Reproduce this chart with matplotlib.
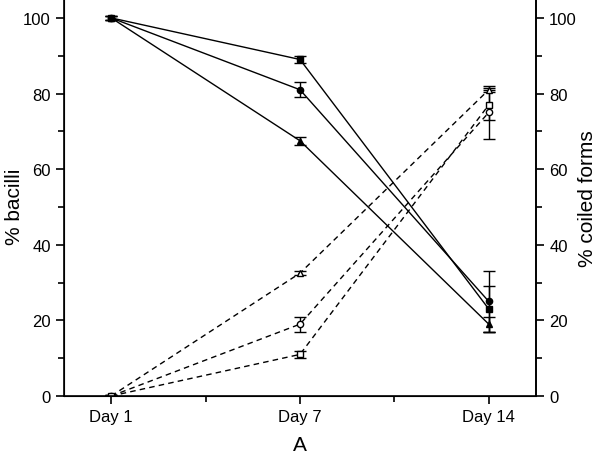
import matplotlib
matplotlib.use("Agg")
import matplotlib.pyplot as plt
from matplotlib.ticker import MultipleLocator

plt.rcParams['font.family'] = ['Liberation Sans', 'DejaVu Sans']

days = ["Day 1", "Day 7", "Day 14"]
x = [1, 2, 3]

# % bacilli (solid lines, filled markers)
bac_square = [100, 89, 23]
bac_square_err = [0.5, 1, 6]
bac_circle = [100, 81, 25]
bac_circle_err = [0.5, 2, 8]
bac_triangle = [100, 67.5, 19]
bac_triangle_err = [0.5, 1, 2]

# % coiled forms (dashed lines, open markers)
coil_triangle = [0, 32.5, 81]
coil_triangle_err = [0.3, 0.5, 0.5]
coil_circle = [0, 19, 75]
coil_circle_err = [0.3, 2, 7]
coil_square = [0, 11, 77]
coil_square_err = [0.3, 1, 4]

fig = plt.figure(figsize=(6, 4.56), dpi=100)
ax = fig.add_axes([0.1067, 0.1294, 0.7866, 0.8706])

ekw = dict(color='black', linewidth=1, capsize=4, elinewidth=1, markersize=4.5)
ax.errorbar(x, bac_square, yerr=bac_square_err, marker='s', linestyle='-', **ekw)
ax.errorbar(x, bac_circle, yerr=bac_circle_err, marker='o', linestyle='-', **ekw)
ax.errorbar(x, bac_triangle, yerr=bac_triangle_err, marker='^', linestyle='-', **ekw)

ax.errorbar(x, coil_triangle, yerr=coil_triangle_err, marker='^', linestyle='--',
            markerfacecolor='white', dashes=(4, 3), **ekw)
ax.errorbar(x, coil_circle, yerr=coil_circle_err, marker='o', linestyle='--',
            markerfacecolor='white', dashes=(4, 3), **ekw)
ax.errorbar(x, coil_square, yerr=coil_square_err, marker='s', linestyle='--',
            markerfacecolor='white', dashes=(4, 3), **ekw)

ax.set_xlim(0.75, 3.25)
ax.set_ylim(0, 105)
ax.set_xticks(x)
ax.set_xticklabels(days)
ax.set_xticks([1.5, 2.5], minor=True)
ax.yaxis.set_major_locator(MultipleLocator(20))
ax.yaxis.set_minor_locator(MultipleLocator(10))
ax.spines['top'].set_visible(False)
for s in ['left', 'right', 'bottom']:
    ax.spines[s].set_linewidth(1.2)
ax.tick_params(axis='both', which='major', direction='out', length=6, width=1.2, labelsize=12)
ax.tick_params(axis='both', which='minor', direction='out', length=4, width=1.2)
ax.set_ylabel('% bacilli', fontsize=15)
ax.yaxis.set_label_coords(-0.085, 0.48)
ax.set_xlabel('A', fontsize=15, labelpad=8)

ax2 = ax.twinx()
ax2.set_ylim(0, 105)
ax2.yaxis.set_major_locator(MultipleLocator(20))
ax2.yaxis.set_minor_locator(MultipleLocator(10))
ax2.spines['top'].set_visible(False)
ax2.spines['right'].set_linewidth(1.2)
ax2.tick_params(axis='y', which='major', direction='out', length=6, width=1.2, labelsize=12)
ax2.tick_params(axis='y', which='minor', direction='out', length=4, width=1.2)
ax2.set_ylabel('% coiled forms', fontsize=15)
ax2.yaxis.set_label_coords(1.09, 0.5)

fig.savefig('out.png', dpi=100)
